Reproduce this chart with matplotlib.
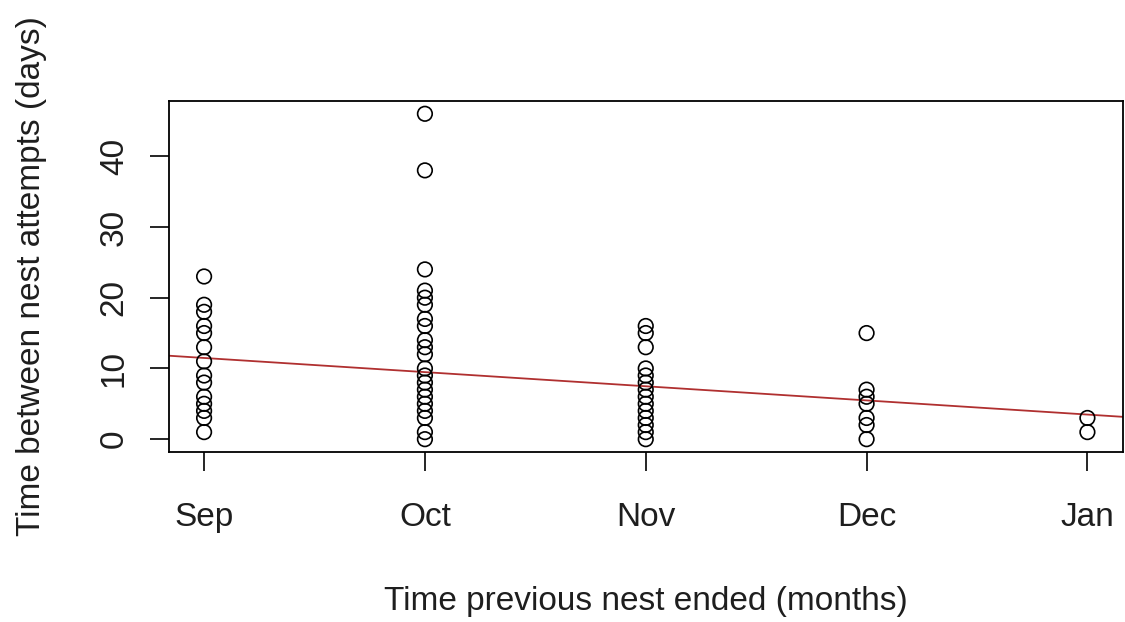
import numpy as np
import matplotlib
matplotlib.use("Agg")
from matplotlib import pyplot as plt

plt.rcParams['font.family'] = ['Liberation Sans', 'DejaVu Sans']

month_labels = ["Sep", "Oct", "Nov", "Dec", "Jan"]
month_nums = [9, 10, 11, 12, 13]

# days between attempts, grouped by month the previous nest ended
sep_days = [23, 19, 18, 16, 15, 13, 11, 9, 8, 6, 5, 4, 3, 1]
oct_days = [46, 38, 24, 21, 20, 19, 17, 16, 14, 13, 12, 10, 9, 8, 7, 6, 5, 4, 3, 1, 0]
nov_days = [16, 15, 13, 10, 9, 8, 7, 6, 5, 4, 3, 2, 1, 0]
dec_days = [15, 7, 6, 5, 3, 2, 0]
jan_days = [3, 1]

# fitted line
fit_intercept_at_sep = 11.48
fit_slope = -2.0

TEXT = '#1e1e1e'


def main():
    groups = [sep_days, oct_days, nov_days, dec_days, jan_days]
    xs = np.concatenate([[m] * len(g) for m, g in zip(month_nums, groups)])
    ys = np.concatenate(groups)

    fig = plt.figure(figsize=(11.25, 6.22), dpi=100)
    ax = fig.add_axes([0.150, 0.273, 0.848, 0.565])

    ax.scatter(xs, ys, s=110, facecolors='none', edgecolors='black',
               linewidths=1.2, zorder=3)
    ax.axline((9, fit_intercept_at_sep), slope=fit_slope,
              color='#b03030', linewidth=1.3, zorder=2)

    # R-style 4% padding
    xr = max(month_nums) - min(month_nums)
    ax.set_xlim(min(month_nums) - 0.04 * xr, max(month_nums) + 0.04 * xr)
    yr = ys.max() - ys.min()
    ax.set_ylim(ys.min() - 0.04 * yr, ys.max() + 0.04 * yr)

    ax.set_xticks(month_nums, month_labels)
    ax.set_yticks([0, 10, 20, 30, 40])
    for lbl in ax.get_yticklabels():
        lbl.set_rotation(90)
        lbl.set_va('center')

    ax.tick_params(axis='both', labelsize=24, length=14, width=1.2,
                   color='black', labelcolor=TEXT)
    ax.tick_params(axis='x', pad=22)
    ax.tick_params(axis='y', pad=14)
    for sp in ax.spines.values():
        sp.set_linewidth(1.3)
        sp.set_color('black')

    ax.set_xlabel("Time previous nest ended (months)", fontsize=24,
                  color=TEXT, labelpad=38)
    ax.set_ylabel("Time between nest attempts (days)", fontsize=24,
                  color=TEXT, labelpad=37)

    fig.savefig("out.png", dpi=100, facecolor='white')


if __name__ == "__main__":
    main()
